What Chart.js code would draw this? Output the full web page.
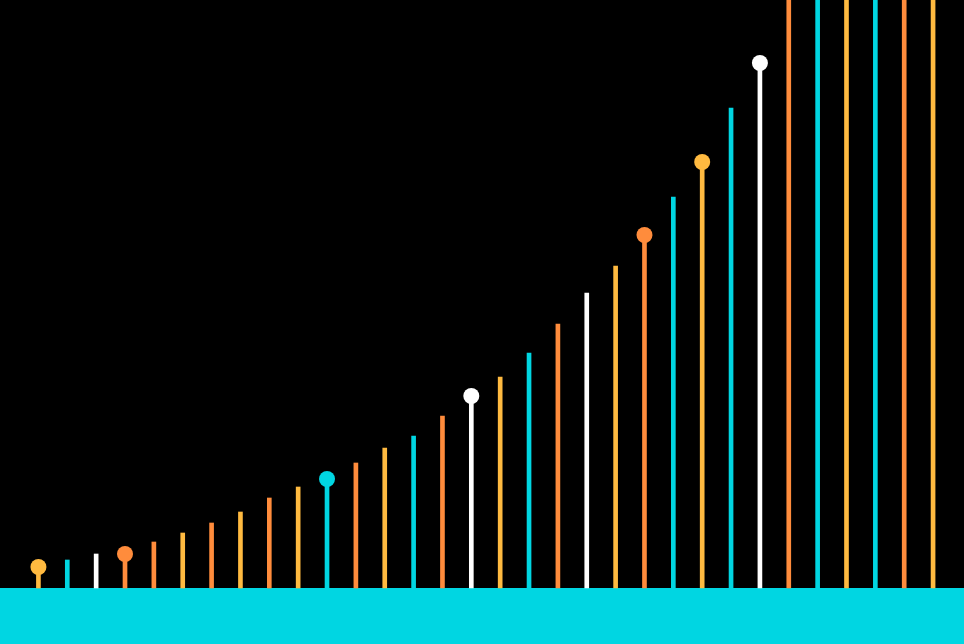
<!DOCTYPE html>
<html>
<head>
<meta charset="utf-8">
<script src="https://cdn.jsdelivr.net/npm/chart.js@4/dist/chart.umd.min.js"></script>
<style>
html,body{margin:0;padding:0;background:#000;}
#wrap{width:964px;height:644px;position:relative;}
</style>
</head>
<body>
<div id="wrap"><canvas id="chart"></canvas></div>
<script>
// --- data ---
const labels = Array.from({length: 32}, (_, i) => String(i + 1));
const values = [21, 28, 34, 34, 46, 55, 65, 76, 90, 101, 109, 125, 140, 152, 172, 192,
  211, 235, 264, 295, 322, 353, 391, 426, 480, 525, 640, 700, 770, 850, 930, 1020];
// colour key per bar: y = yellow, c = cyan, w = white, o = orange
const colorKeys = ['y','c','w','o','o','y','o','y','o','y','c','o','y','c','o','w',
  'y','c','o','w','y','o','c','y','c','w','o','c','y','c','o','y'];
// bars that carry a dot on top
const dotIdx = [0, 3, 10, 15, 21, 23, 25];

const palette = { y: '#FFBA40', c: '#00D6E2', w: '#FFFFFF', o: '#FF8C3C' };
const barColors = colorKeys.map(k => palette[k]);
const dots = values.map((v, i) => dotIdx.includes(i) ? v : null);

const bandPlugin = {
  id: 'band',
  beforeDraw(chart){
    const {ctx, chartArea, width, height} = chart;
    ctx.save();
    ctx.fillStyle = '#000';
    ctx.fillRect(0, 0, width, height);
    ctx.fillStyle = '#00D6E2';
    ctx.fillRect(0, chartArea.bottom, width, height - chartArea.bottom);
    ctx.restore();
  }
};

new Chart(document.getElementById('chart'), {
  data: {
    labels,
    datasets: [
      {
        type: 'scatter',
        data: dots,
        pointRadius: 8,
        pointHoverRadius: 8,
        pointBackgroundColor: barColors,
        pointBorderWidth: 0,
        showLine: false,
        clip: false,
        order: 0
      },
      {
        type: 'bar',
        data: values,
        backgroundColor: barColors,
        barThickness: 4,
        borderWidth: 0,
        clip: false,
        order: 1
      }
    ]
  },
  options: {
    responsive: true,
    maintainAspectRatio: false,
    animation: false,
    // the dots add 8px on top of the plot area, so the value range is 580
    layout: { padding: { left: 24, right: 16.5, top: 0, bottom: 56 } },
    scales: {
      x: { type: 'category', display: false, offset: true },
      y: { display: false, min: 0, max: 580 }
    },
    plugins: { legend: { display: false }, tooltip: { enabled: false } }
  },
  plugins: [bandPlugin]
});
</script>
</body>
</html>
